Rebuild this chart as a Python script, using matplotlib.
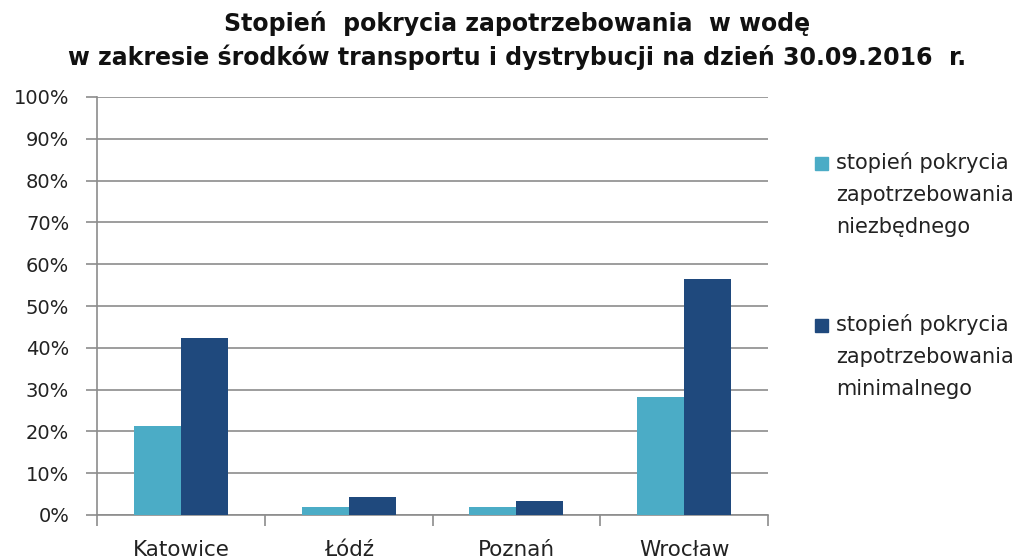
import numpy as np
import matplotlib
matplotlib.use('Agg')
import matplotlib.pyplot as plt
from matplotlib.patches import Rectangle
from matplotlib.ticker import MultipleLocator, FuncFormatter

# dane
miasta = ['Katowice', 'Łódź', 'Poznań', 'Wrocław']
niezbedne = [21.3, 1.9, 1.9, 28.2]
minimalne = [42.3, 4.3, 3.3, 56.4]
etykiety = ['stopień pokrycia\nzapotrzebowania\nniezbędnego',
            'stopień pokrycia\nzapotrzebowania\nminimalnego']

kolor_jasny = '#4BACC6'
kolor_ciemny = '#1F497D'
szary = '#8C8C8C'

W, H = 1035, 558
fig = plt.figure(figsize=(W / 100, H / 100), dpi=100)
ax = fig.add_axes([97 / W, 1 - 515 / H, 671 / W, 418 / H])

x = np.arange(len(miasta))
w = 0.28
ax.bar(x - w / 2, niezbedne, width=w, color=kolor_jasny, zorder=3)
ax.bar(x + w / 2, minimalne, width=w, color=kolor_ciemny, zorder=3)

ax.set_xlim(-0.5, len(miasta) - 0.5)
ax.set_ylim(0, 100)
ax.yaxis.set_major_locator(MultipleLocator(10))
ax.yaxis.set_major_formatter(FuncFormatter(lambda v, p: f'{int(v)}%'))
ax.grid(axis='y', color=szary, linewidth=1.2, zorder=0)

# ticki kategorii na granicach
ax.set_xticks(np.arange(-0.5, len(miasta), 1.0))
ax.set_xticklabels([])
ax.set_xticks(x, minor=True)
ax.set_xticklabels(miasta, minor=True, fontsize=15.5, color='#222222')
ax.tick_params(axis='x', which='minor', length=0, pad=18)
ax.tick_params(axis='x', which='major', length=8, color=szary, width=1.2)
ax.tick_params(axis='y', length=8, color=szary, width=1.2, labelsize=14,
               labelcolor='#222222', pad=12)

for s in ['top', 'right']:
    ax.spines[s].set_visible(False)
for s in ['left', 'bottom']:
    ax.spines[s].set_color(szary)
    ax.spines[s].set_linewidth(1.2)

fig.suptitle('Stopień  pokrycia zapotrzebowania  w wodę\n'
             'w zakresie środków transportu i dystrybucji na dzień 30.09.2016  r.',
             x=0.5, y=0.98, fontsize=17, fontweight='bold', color='#111111',
             linespacing=1.4)

# legenda - kwadrat przy pierwszej linii opisu
for kolor, opis, yc in [(kolor_jasny, etykiety[0], 163), (kolor_ciemny, etykiety[1], 325)]:
    fig.add_artist(Rectangle((815 / W, 1 - (yc + 7) / H), 13 / W, 13 / H,
                             transform=fig.transFigure, color=kolor))
    fig.text(836 / W, 1 - (yc - 11) / H, opis, fontsize=15, va='top', ha='left',
             color='#222222', linespacing=1.75)

fig.savefig('out.png', dpi=100)
